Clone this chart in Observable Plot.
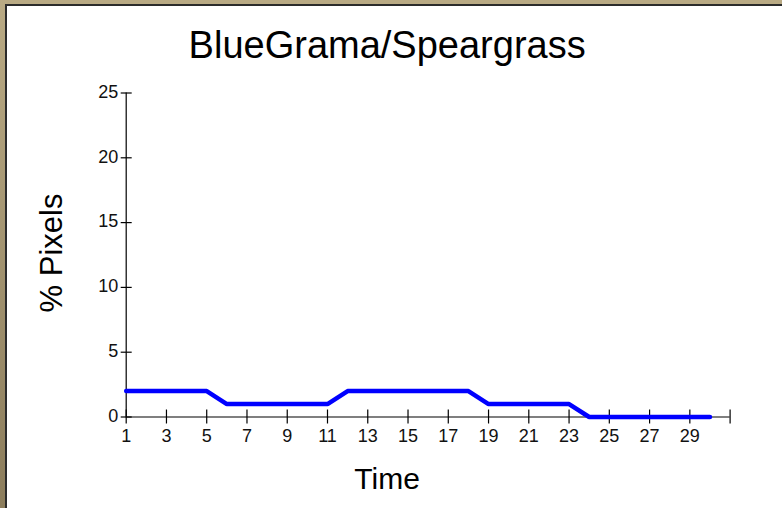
<!DOCTYPE html>
<html>
<head>
<meta charset="utf-8">
<script src="https://cdn.jsdelivr.net/npm/d3@7"></script>
<script src="https://cdn.jsdelivr.net/npm/@observablehq/plot@0.6"></script>
<style>
  html, body { margin: 0; padding: 0; background: #fff; }
  #wrap { position: relative; width: 782px; height: 508px; overflow: hidden; background: #fff; }
  #wrap svg { position: absolute; left: 0; top: 0; }
  .bt { position: absolute; left: 0; top: 0; width: 782px; height: 4px; background: #b9aa84; }
  .bl { position: absolute; left: 0; top: 0; width: 5px; height: 508px; background: linear-gradient(#b9aa84, #8c7d5c); }
  .dt { position: absolute; left: 5px; top: 4px; width: 777px; height: 2px; background: #2b2b2b; }
  .dl { position: absolute; left: 5px; top: 4px; width: 2px; height: 504px; background: #2b2b2b; }
</style>
</head>
<body>
<div id="wrap">
  <div class="bt"></div><div class="bl"></div><div class="dt"></div><div class="dl"></div>
</div>
<script>
const title = "BlueGrama/Speargrass";
const xLabel = "Time";
const yLabel = "% Pixels";
const times = [1,2,3,4,5,6,7,8,9,10,11,12,13,14,15,16,17,18,19,20,21,22,23,24,25,26,27,28,29,30];
const values = [2,2,2,2,2,1,1,1,1,1,1,2,2,2,2,2,2,2,1,1,1,1,1,0,0,0,0,0,0,0];
const xTicks = [1,3,5,7,9,11,13,15,17,19,21,23,25,27,29,31];
const xTickLabels = [1,3,5,7,9,11,13,15,17,19,21,23,25,27,29];
const yTicks = [0,5,10,15,20,25];

const data = times.map((t, i) => ({time: t, value: values[i]}));
const font = "'Liberation Sans', Arial, sans-serif";

const chart = Plot.plot({
  width: 782,
  height: 508,
  marginLeft: 125.7,
  marginRight: 52.4,
  marginTop: 92.5,
  marginBottom: 91.5,
  style: {background: "transparent", fontFamily: font, color: "#000"},
  x: {domain: [1, 31], range: [125.7, 729.6], axis: null},
  y: {domain: [0, 25], range: [416.5, 92.5], axis: null},
  marks: [
    // axis lines
    Plot.ruleY([0], {x1: 1, x2: 31, stroke: "#000", strokeWidth: 1.2}),
    Plot.ruleX([1], {y1: 0, y2: 25, stroke: "#000", strokeWidth: 1.2}),
    // crossing ticks
    Plot.ruleX(xTicks, {x: d => d, y1: 0, y2: 0, insetTop: -7, insetBottom: -7, stroke: "#000", strokeWidth: 1.2}),
    Plot.ruleY(yTicks, {y: d => d, x1: 1, x2: 1, insetLeft: -5, insetRight: -6, stroke: "#000", strokeWidth: 1.2}),
    // tick labels
    Plot.text(xTickLabels, {x: d => d, y: 0, dy: 19, text: d => String(d), fontSize: 18, fill: "#111"}),
    Plot.text(yTicks, {x: 1, y: d => d, dx: -8, dy: -1, textAnchor: "end", text: d => String(d), fontSize: 18, fill: "#111"}),
    // data line
    Plot.line(data, {x: "time", y: "value", stroke: "#0000ff", strokeWidth: 4.5, strokeLinejoin: "miter"}),
    // title and axis labels
    Plot.text([title], {frameAnchor: "top", lineAnchor: "middle", textAnchor: "middle", dx: -41, dy: -47, text: d => d, fontSize: 38, fill: "#000"}),
    Plot.text([xLabel], {frameAnchor: "bottom", lineAnchor: "middle", textAnchor: "middle", dx: -41, dy: 62, text: d => d, fontSize: 30, fill: "#000"}),
    Plot.text([yLabel], {frameAnchor: "left", lineAnchor: "middle", textAnchor: "middle", dx: -74, dy: -2, rotate: -90, text: d => d, fontSize: 31, fill: "#000"})
  ]
});
document.getElementById("wrap").appendChild(chart);
</script>
</body>
</html>
